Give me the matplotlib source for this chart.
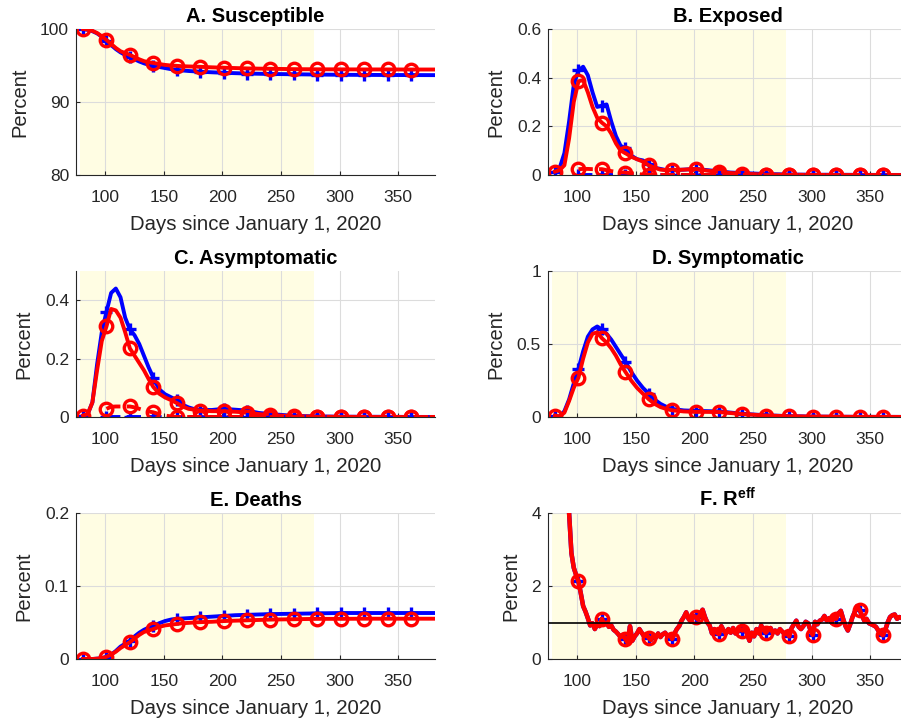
import numpy as np
import matplotlib.pyplot as plt

plt.rcParams['font.family'] = ['Liberation Sans', 'DejaVu Sans']
plt.rcParams['mathtext.fontset'] = 'custom'
plt.rcParams['mathtext.rm'] = 'Liberation Sans'
plt.rcParams['mathtext.bf'] = 'Liberation Sans:bold'

# day grid for the smooth compartments
days = np.array([81, 85, 89, 93, 97, 101, 105, 109, 113, 117, 121, 125, 129, 133, 137,
                 141, 146, 151, 156, 161, 166, 171, 176, 181, 191, 201, 211, 221, 231,
                 241, 261, 281, 301, 321, 341, 361, 381])
marker_days = np.arange(81, 362, 20)

# A. Susceptible
sus_blue = [100, 99.9, 99.7, 99.4, 98.95, 98.4, 97.8, 97.25, 96.8, 96.45, 96.15, 95.85, 95.55,
            95.3, 95.1, 94.95, 94.8, 94.65, 94.5, 94.4, 94.32, 94.25, 94.2, 94.15, 94.07, 94.0,
            93.95, 93.9, 93.87, 93.84, 93.8, 93.76, 93.73, 93.71, 93.7, 93.69, 93.68]
sus_red = [100, 99.92, 99.75, 99.45, 99.0, 98.5, 97.95, 97.4, 96.95, 96.7, 96.45, 96.15, 95.85,
           95.6, 95.45, 95.35, 95.2, 95.08, 95.0, 94.95, 94.9, 94.87, 94.85, 94.82, 94.75, 94.7,
           94.65, 94.6, 94.57, 94.55, 94.5, 94.48, 94.47, 94.46, 94.46, 94.45, 94.45]

# B. Exposed
exp_blue = [0.014, 0.03, 0.09, 0.22, 0.37, 0.43, 0.445, 0.41, 0.34, 0.28, 0.285, 0.29, 0.22,
            0.16, 0.12, 0.11, 0.08, 0.065, 0.06, 0.045, 0.03, 0.025, 0.02, 0.02, 0.022, 0.025,
            0.02, 0.015, 0.01, 0.008, 0.004, 0.002, 0.001, 0.001, 0.0005, 0.0003, 0.0002]
exp_red = [0.014, 0.02, 0.04, 0.15, 0.3, 0.385, 0.39, 0.34, 0.28, 0.235, 0.215, 0.2, 0.17,
           0.13, 0.1, 0.09, 0.075, 0.065, 0.055, 0.04, 0.03, 0.022, 0.02, 0.02, 0.022, 0.025,
           0.018, 0.012, 0.008, 0.005, 0.002, 0.001, 0.0005, 0.0003, 0.0003, 0.0003, 0.0003]
exp_red_d = [np.nan] * 5 + [0.024, 0.025, 0.025, 0.024, 0.024, 0.024, 0.02, 0.016, 0.013, 0.011,
                            0.01, 0.007, 0.004, 0.002, 0.001] + [0] * 17
exp_blue_d = [np.nan] * 5 + [0] * 32

# C. Asymptomatic
asy_blue = [0.002, 0.01, 0.05, 0.18, 0.29, 0.36, 0.425, 0.44, 0.41, 0.34, 0.3, 0.28, 0.25,
            0.21, 0.17, 0.135, 0.095, 0.078, 0.068, 0.058, 0.042, 0.033, 0.027, 0.024, 0.024,
            0.028, 0.025, 0.022, 0.014, 0.01, 0.004, 0.002, 0.001, 0.0008, 0.0005, 0.0003, 0.0002]
asy_red = [0.005, 0.01, 0.05, 0.16, 0.26, 0.31, 0.37, 0.365, 0.34, 0.29, 0.235, 0.21, 0.185,
           0.16, 0.13, 0.103, 0.08, 0.067, 0.058, 0.048, 0.036, 0.028, 0.025, 0.022, 0.02, 0.02,
           0.018, 0.015, 0.01, 0.006, 0.003, 0.001, 0.0006, 0.0004, 0.0003, 0.0002, 0.0002]
asy_red_d = [np.nan] * 5 + [0.028, 0.035, 0.036, 0.036, 0.036, 0.036, 0.033, 0.028, 0.023, 0.019,
                            0.016, 0.01, 0.005, 0.002, 0] + [0] * 17
asy_blue_d = [np.nan] * 5 + [0] * 32

# D. Symptomatic
sym_blue = [0.005, 0.004, 0.04, 0.12, 0.23, 0.33, 0.45, 0.55, 0.6, 0.62, 0.6, 0.57, 0.53,
            0.48, 0.43, 0.38, 0.31, 0.25, 0.2, 0.16, 0.12, 0.09, 0.07, 0.055, 0.045, 0.042,
            0.04, 0.038, 0.03, 0.022, 0.012, 0.006, 0.003, 0.002, 0.001, 0.001, 0.0005]
sym_red = [0.01, 0.004, 0.03, 0.11, 0.2, 0.27, 0.4, 0.51, 0.57, 0.58, 0.54, 0.51, 0.47,
           0.42, 0.36, 0.31, 0.25, 0.2, 0.16, 0.122, 0.09, 0.068, 0.055, 0.046, 0.038, 0.035,
           0.035, 0.034, 0.027, 0.02, 0.01, 0.005, 0.003, 0.002, 0.001, 0.001, 0.0005]

# E. Deaths
dth_blue = [0, 0, 0, 0.0005, 0.001, 0.003, 0.006, 0.011, 0.017, 0.021, 0.025, 0.031, 0.036,
            0.04, 0.043, 0.045, 0.049, 0.052, 0.054, 0.055, 0.0555, 0.056, 0.0565, 0.057,
            0.058, 0.059, 0.06, 0.0605, 0.061, 0.0615, 0.062, 0.0625, 0.063, 0.063, 0.063,
            0.063, 0.063]
dth_red = [0, 0, 0, 0.0005, 0.001, 0.003, 0.006, 0.01, 0.015, 0.019, 0.023, 0.028, 0.033,
           0.037, 0.039, 0.041, 0.044, 0.046, 0.047, 0.048, 0.049, 0.0495, 0.05, 0.0505, 0.051,
           0.052, 0.0525, 0.053, 0.0535, 0.054, 0.0545, 0.055, 0.055, 0.0552, 0.0552, 0.0552,
           0.0552]

# F. R eff, every 2 days
reff_days = np.arange(81, 381, 2)
reff = [12, 10.5, 9, 7.6, 6.3, 5.1, 4.0, 2.9, 2.5, 2.3,
        2.13, 1.8, 1.45, 1.3, 1.12, 0.92, 0.98, 0.82, 0.95, 0.9,
        1.1, 0.95, 1.0, 0.88, 0.92, 0.8, 0.75, 0.68, 0.6, 0.66,
        0.55, 0.45, 0.9, 0.5, 0.62, 0.7, 0.82, 0.72, 0.62, 0.68,
        0.58, 0.52, 0.65, 0.58, 0.7, 0.6, 0.68, 0.72, 0.62, 0.66,
        0.55, 0.7, 0.82, 0.9, 1.05, 1.15, 1.28, 1.1, 1.02, 1.18,
        1.15, 1.08, 1.25, 1.35, 1.15, 1.0, 0.92, 0.7, 0.82, 0.72,
        0.68, 0.9, 0.78, 0.7, 0.82, 0.72, 0.85, 0.7, 0.75, 0.82,
        0.78, 0.85, 0.68, 0.5, 0.72, 0.62, 0.82, 0.7, 0.92, 0.8,
        0.72, 0.8, 0.85, 0.72, 0.78, 0.7, 0.82, 0.75, 0.68, 0.7,
        0.62, 0.85, 0.95, 1.05, 0.88, 0.82, 0.9, 1.02, 0.98, 0.8,
        0.66, 1.02, 0.95, 1.05, 1.08, 1.18, 1.05, 1.12, 1.0, 1.15,
        1.1, 1.25, 1.32, 1.1, 0.9, 0.78, 0.95, 1.15, 1.3, 1.45,
        1.35, 1.2, 1.05, 1.1, 0.98, 0.95, 0.92, 0.88, 0.78, 0.7,
        0.65, 0.8, 1.0, 1.15, 1.2, 1.22, 1.1, 1.15, 1.12, 1.1]

titles = ['A. Susceptible', 'B. Exposed', 'C. Asymptomatic', 'D. Symptomatic',
          'E. Deaths', r'F. $\mathbf{R^{eff}}$']
ylims = [(80, 100), (0, 0.6), (0, 0.5), (0, 1), (0, 0.2), (0, 4)]
yticks = [[80, 90, 100], [0, 0.2, 0.4, 0.6], [0, 0.2, 0.4], [0, 0.5, 1], [0, 0.1, 0.2], [0, 2, 4]]

fig = plt.figure(figsize=(9.01, 7.21), dpi=100)
W, H = 901, 721
lefts = [76, 548]
tops = [29, 271, 513]
aw, ah = 359, 146
axes = []
for r in range(3):
    for c in range(2):
        axes.append(fig.add_axes([lefts[c] / W, 1 - (tops[r] + ah) / H, aw / W, ah / H]))

dark = '#262626'


def series(ax, x, y, color, marker, ls='-', lw=2.8):
    x = np.asarray(x)
    y = np.asarray(y, dtype=float)
    ax.plot(x, y, color=color, lw=lw, ls=ls, zorder=3)
    m = np.isin(x, marker_days)
    if marker == 'o':
        ax.plot(x[m], y[m], ls='none', marker='o', ms=9, mew=2.4, mfc='none', mec=color, zorder=3)
    else:
        ax.plot(x[m], y[m], ls='none', marker='+', ms=9, mew=2.4, color=color, zorder=3)


data = [(sus_blue, sus_red), (exp_blue, exp_red), (asy_blue, asy_red),
        (sym_blue, sym_red), (dth_blue, dth_red)]

for i, ax in enumerate(axes):
    ax.axvspan(78, 278, color='#fffde3', lw=0, zorder=0.2)
    if i < 5:
        b, r = data[i]
        series(ax, days, b, 'blue', '+')
        series(ax, days, r, 'red', 'o')
        if i == 1:
            series(ax, days, exp_blue_d, 'blue', '+', '--')
            series(ax, days, exp_red_d, 'red', 'o', '--')
        if i == 2:
            series(ax, days, asy_blue_d, 'blue', '+', '--')
            series(ax, days, asy_red_d, 'red', 'o', '--')
    else:
        series(ax, reff_days, reff, 'blue', '+', lw=3.2)
        series(ax, reff_days, reff, 'red', 'o', lw=3.2)
        ax.axhline(1, color='black', lw=1.2, zorder=5)

    ax.set_xlim(75, 381.5)
    ax.set_ylim(*ylims[i])
    ax.set_xticks([100, 150, 200, 250, 300, 350])
    ax.set_yticks(yticks[i])
    ax.set_yticklabels([('%g' % v) for v in yticks[i]])
    ax.grid(True, color='#dcdcdc', lw=0.8)
    ax.set_axisbelow(True)
    for s in ['top', 'right']:
        ax.spines[s].set_visible(False)
    for s in ['left', 'bottom']:
        ax.spines[s].set_color(dark)
        ax.spines[s].set_linewidth(0.8)
        ax.spines[s].set_zorder(4)
    ax.tick_params(direction='in', length=3, color=dark, labelcolor=dark, labelsize=12.5)
    ax.tick_params(axis='x', pad=11)
    ax.tick_params(axis='y', pad=5)
    ax.set_title(titles[i], fontsize=14.5, fontweight='bold', pad=5)
    ax.set_xlabel('Days since January 1, 2020', fontsize=14.7, color=dark, labelpad=7)
    ax.set_ylabel('Percent', fontsize=14.5, color=dark, labelpad=8)

fig.savefig('out.png', dpi=100)
